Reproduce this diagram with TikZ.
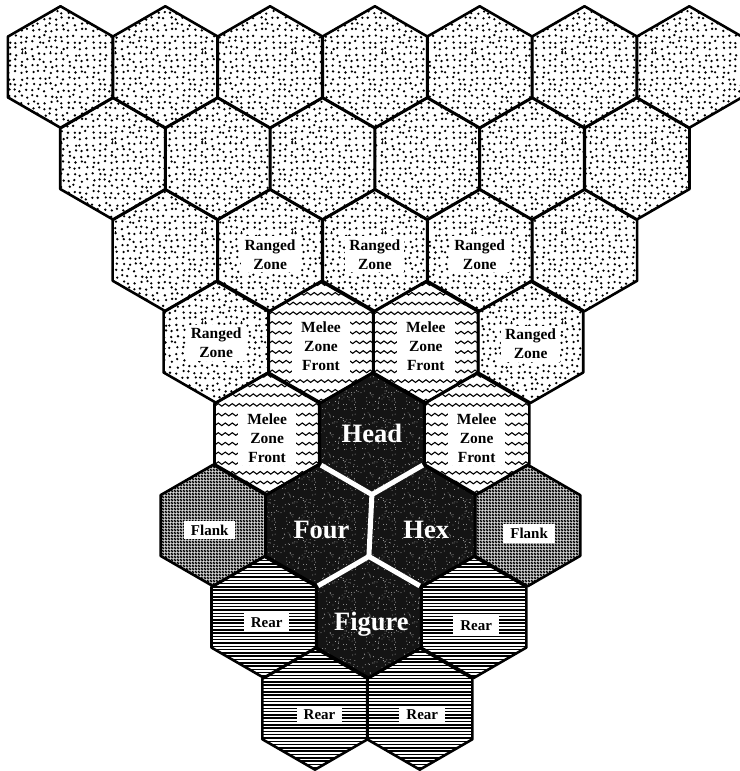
\documentclass[tikz,border=0pt]{standalone}
\usepackage{fontspec}
\setmainfont{Liberation Serif}
\usetikzlibrary{patterns,decorations.pathmorphing}
\pgfdeclarepatternformonly{flankchk}{\pgfpointorigin}{\pgfqpoint{3pt}{3pt}}{\pgfqpoint{3pt}{3pt}}{%
  \pgfpathrectangle{\pgfpointorigin}{\pgfqpoint{3pt}{3pt}}%
  \pgfpathcircle{\pgfqpoint{0.75pt}{0.75pt}}{0.8pt}%
  \pgfpathcircle{\pgfqpoint{2.25pt}{2.25pt}}{0.8pt}%
  \pgfseteorule\pgfusepath{fill}}
\pgfdeclarepatternformonly{stipple}{\pgfpointorigin}{\pgfqpoint{90pt}{90pt}}{\pgfqpoint{90pt}{90pt}}{%
  \pgfmathsetseed{11}%
  \foreach \i in {0,...,14}{\foreach \j in {0,...,14}{%
    \pgfmathsetmacro\px{3+\i*6+1.6*rand}%
    \pgfmathsetmacro\py{3+\j*6+1.6*rand}%
    \pgfpathcircle{\pgfpoint{\px pt}{\py pt}}{1.3pt}\pgfusepath{fill}}}}
\pgfdeclarepatternformonly{darkspeck}{\pgfpointorigin}{\pgfqpoint{40pt}{40pt}}{\pgfqpoint{40pt}{40pt}}{%
  \pgfmathsetseed{5}%
  \foreach \k in {1,...,90}{%
    \pgfmathsetmacro\px{20+19.4*rand}%
    \pgfmathsetmacro\py{20+19.4*rand}%
    \pgfpathcircle{\pgfpoint{\px pt}{\py pt}}{0.4pt}\pgfusepath{fill}}}
\newcommand\hv[2]{([shift={(#2:60.75pt)}]#1)}
\newcommand\hexpath[1]{\hv{#1}{90} -- \hv{#1}{150} -- \hv{#1}{210} -- \hv{#1}{270} -- \hv{#1}{330} -- \hv{#1}{30} -- cycle}
\begin{document}
\begin{tikzpicture}[x=1pt,y=-1pt,
  hxstip/.style={preaction={fill=white},pattern=stipple,pattern color=black},
  hxmelee/.style={fill=white},
  hxflank/.style={preaction={fill=white},pattern=flankchk,pattern color=black},
  hxrear/.style={fill=white},
  hxdark/.style={preaction={fill=black!92},pattern=darkspeck,pattern color=white},
  hexline/.style={draw=black,line width=2.6pt,line join=round},
  wave/.style={line width=1.1pt,decorate,decoration={snake,segment length=7pt,amplitude=1.3pt}},
  lblzone/.style={fill=white,font=\bfseries\fontsize{15.5}{19}\selectfont,align=center,
    inner xsep=4pt,inner ysep=3pt},
  lblmelee/.style={lblzone,inner xsep=9pt},
  lblsmall/.style={fill=white,font=\bfseries\fontsize{15}{18}\selectfont,inner xsep=7pt,inner ysep=4pt},
  lblbig/.style={text=white,font=\bfseries\fontsize{26.5}{30}\selectfont,inner sep=0pt},
  gapline/.style={draw=white,line width=5pt,line join=round,shorten <=2pt,shorten >=2pt}]
\useasboundingbox (0,0) rectangle (739,771);
% hex centres
\foreach \x [count=\c] in {60.5,165.3,270.1,374.9,479.7,584.5,689.3}
  \coordinate (r1c\c) at (\x,67);
\foreach \x [count=\c] in {112.9,217.7,322.5,427.3,532.1,636.9}
  \coordinate (r2c\c) at (\x,158.7);
\foreach \x [count=\c] in {165.3,270.1,374.9,479.7,584.5}
  \coordinate (r3c\c) at (\x,250.4);
\coordinate (r4c1) at (216.2,342.1);
\coordinate (r4c2) at (321.0,342.1);
\coordinate (r4c3) at (425.8,342.1);
\coordinate (r4c4) at (530.6,342.1);
\coordinate (r5c1) at (267.1,433.8);
\coordinate (head) at (371.9,433.8);
\coordinate (r5c3) at (476.7,433.8);
\coordinate (r6c1) at (213.2,525.5);
\coordinate (four) at (318.0,525.5);
\coordinate (hex)  at (422.8,525.5);
\coordinate (r6c4) at (527.6,525.5);
\coordinate (r7c1)   at (264.1,617.2);
\coordinate (figure) at (368.9,617.2);
\coordinate (r7c3)   at (473.7,617.2);
\coordinate (r8c1) at (315.0,708.9);
\coordinate (r8c2) at (419.8,708.9);
% fills
\path[hxstip] \hexpath{r1c1};
\foreach \n in {r1c2,r1c3,r1c4,r1c5,r1c6,r1c7,r2c1,r2c2,r2c3,r2c4,r2c5,r2c6,
    r3c1,r3c2,r3c3,r3c4,r3c5,r4c1,r4c4}
  \path[hxstip] \hexpath{\n};
\foreach \n in {r4c2,r4c3,r5c1,r5c3} \path[hxmelee] \hexpath{\n};
\foreach \n in {r6c1,r6c4} \path[hxflank] \hexpath{\n};
\foreach \n in {r7c1,r7c3,r8c1,r8c2} \path[hxrear] \hexpath{\n};
\foreach \n in {head,four,hex,figure} \path[hxdark] \hexpath{\n};
% melee waves
\foreach \n in {r4c2,r4c3,r5c1,r5c3}{
  \begin{scope}
    \clip \hexpath{\n};
    \begin{scope}[shift={(\n)}]
      \foreach \y in {-58,-48.3,...,60}{\draw[wave] (-58,\y) -- (58,\y);}
    \end{scope}
  \end{scope}}
% rear lines
\foreach \n in {r7c1,r7c3,r8c1,r8c2}{
  \begin{scope}
    \clip \hexpath{\n};
    \begin{scope}[shift={(\n)}]
      \foreach \y in {-60,-56.7,...,61}{\draw[line width=1.5pt] (-56,\y) -- (56,\y);}
    \end{scope}
  \end{scope}}
% outlines
\foreach \n in {r1c1,r1c2,r1c3,r1c4,r1c5,r1c6,r1c7,r2c1,r2c2,r2c3,r2c4,r2c5,r2c6,
    r3c1,r3c2,r3c3,r3c4,r3c5,r4c1,r4c2,r4c3,r4c4,r5c1,head,r5c3,r6c1,four,hex,r6c4,
    r7c1,figure,r7c3,r8c1,r8c2}
  \draw[hexline] \hexpath{\n};
% white gaps between the four dark hexes
\draw[gapline] \hv{head}{210} -- \hv{head}{270} -- \hv{head}{330};
\draw[gapline,shorten <=0pt,shorten >=0pt] \hv{head}{270} -- \hv{figure}{90};
\draw[gapline] \hv{figure}{150} -- \hv{figure}{90} -- \hv{figure}{30};
% labels
\node[lblzone,yshift=-4pt] (t32) at (r3c2) {Ranged\\Zone};
\node[lblzone,yshift=-4pt] (t33) at (r3c3) {Ranged\\Zone};
\node[lblzone,yshift=-4pt] (t34) at (r3c4) {Ranged\\Zone};
\node[lblzone,yshift=-1pt] (t41) at (r4c1) {Ranged\\Zone};
\node[lblzone,yshift=-2pt] (t44) at (r4c4) {Ranged\\Zone};
\node[lblmelee,yshift=-4pt] (t42) at (r4c2) {Melee\\Zone\\Front};
\node[lblmelee,yshift=-4pt] (t43) at (r4c3) {Melee\\Zone\\Front};
\node[lblmelee,yshift=-4pt] (t51) at (r5c1) {Melee\\Zone\\Front};
\node[lblmelee,yshift=-4pt] (t53) at (r5c3) {Melee\\Zone\\Front};
\node[lblbig] (thead) at (head) {Head};
\node[lblbig,xshift=3.5pt,yshift=-4.5pt] (tfour) at (four) {Four};
\node[lblbig,xshift=3.5pt,yshift=-4.5pt] (thex) at (hex) {Hex};
\node[lblbig,xshift=2.5pt,yshift=-7.5pt] (tfig) at (figure) {Figure};
\node[lblsmall,xshift=-3.5pt,yshift=-4.5pt] (t61) at (r6c1) {Flank};
\node[lblsmall,xshift=1.5pt,yshift=-8pt] (t64) at (r6c4) {Flank};
\node[lblsmall,xshift=2.5pt,yshift=-5pt] (t71) at (r7c1) {Rear};
\node[lblsmall,xshift=2.5pt,yshift=-8pt] (t73) at (r7c3) {Rear};
\node[lblsmall,xshift=4.5pt,yshift=-6pt] (t81) at (r8c1) {Rear};
\node[lblsmall,xshift=2.5pt,yshift=-6pt] (t82) at (r8c2) {Rear};
\end{tikzpicture}
\end{document}
